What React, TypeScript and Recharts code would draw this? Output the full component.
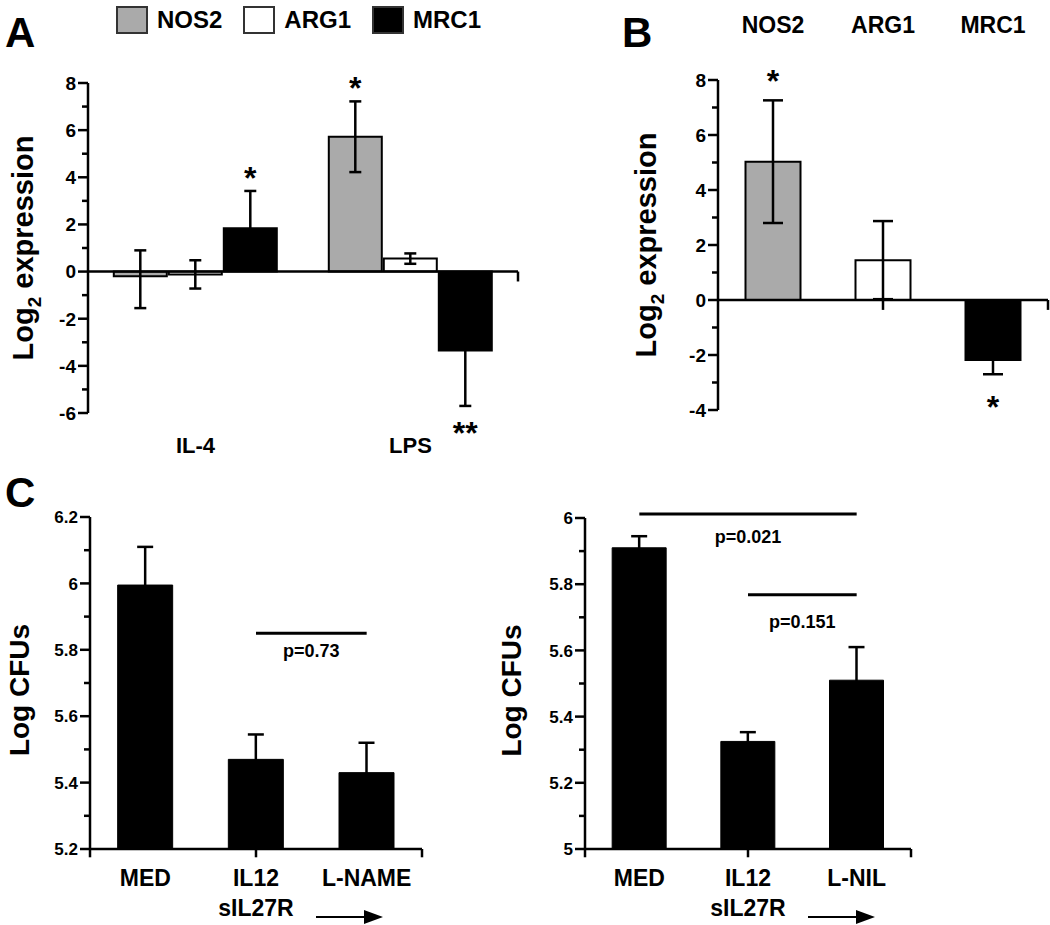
import React from "react"
import { BarChart, Bar, XAxis, YAxis, ErrorBar, ReferenceLine, Legend, LabelList, Cell } from "recharts"

const FONT = '"Liberation Sans", Arial, Helvetica, sans-serif'
const GREY = "#aaaaaa"

// Panel A: IL-4 / LPS, three genes
const seriesA = ["NOS2", "ARG1", "MRC1"]
const groupsA = ["IL-4", "LPS"]
const nos2A = [-0.2, 5.72]
const nos2ErrA = [[1.35, 1.1], [1.5, 1.5]]
const nos2StarA = ["", "*"]
const arg1A = [-0.12, 0.55]
const arg1ErrA = [0.6, 0.22]
const arg1StarA = ["", ""]
const mrc1A = [1.84, -3.35]
const mrc1ErrA = [1.58, 2.35]
const mrc1StarA = ["*", "**"]
const yTicksA = [-6, -5, -4, -3, -2, -1, 0, 1, 2, 3, 4, 5, 6, 7, 8]
const yLabelsA = [-6, -4, -2, 0, 2, 4, 6, 8]

// Panel B
const genesB = ["NOS2", "ARG1", "MRC1"]
const valuesB = [5.03, 1.45, -2.18]
const errB = [2.23, 1.42, 0.52]
const starsB = ["*", "", "*"]
const fillsB = [GREY, "#ffffff", "#000000"]
const yTicksB = [-4, -3, -2, -1, 0, 1, 2, 3, 4, 5, 6, 7, 8]
const yLabelsB = [-4, -2, 0, 2, 4, 6, 8]

// Panel C left
const groupsCL = ["MED", "IL12\nsIL27R", "L-NAME"]
const cfuCL = [5.995, 5.47, 5.43]
const errCL = [0.115, 0.075, 0.09]
const yTicksCL = [5.2, 5.3, 5.4, 5.5, 5.6, 5.7, 5.8, 5.9, 6, 6.1, 6.2]
const yLabelsCL = [5.2, 5.4, 5.6, 5.8, 6, 6.2]
const sigCL = [{ from: 1, to: 2, level: 5.85, text: "p=0.73", offset: 11 }]

// Panel C right
const groupsCR = ["MED", "IL12\nsIL27R", "L-NIL"]
const cfuCR = [5.91, 5.325, 5.51]
const errCR = [0.035, 0.028, 0.1]
const yTicksCR = [5, 5.1, 5.2, 5.3, 5.4, 5.5, 5.6, 5.7, 5.8, 5.9, 6]
const yLabelsCR = [5, 5.2, 5.4, 5.6, 5.8, 6]
const sigCR = [
  { from: 0, to: 2, level: 6.012, text: "p=0.021", offset: 16 },
  { from: 1, to: 2, level: 5.768, text: "p=0.151", offset: 20 },
]

const dataA = groupsA.map((g, i) => ({
  group: g,
  nos2: nos2A[i], nos2Err: nos2ErrA[i], nos2Star: nos2StarA[i],
  arg1: arg1A[i], arg1Err: arg1ErrA[i], arg1Star: arg1StarA[i],
  mrc1: mrc1A[i], mrc1Err: mrc1ErrA[i], mrc1Star: mrc1StarA[i],
}))
const dataB = genesB.map((g, i) => ({ gene: g, value: valuesB[i], err: errB[i], star: starsB[i] }))
const dataCL = groupsCL.map((g, i) => ({ group: g, cfu: cfuCL[i], err: errCL[i] }))
const dataCR = groupsCR.map((g, i) => ({ group: g, cfu: cfuCR[i], err: errCR[i] }))

const makeYTick = (majors: number[], fs: number) => (props: any) => {
  const { x, y, payload } = props
  const major = majors.includes(payload.value)
  const len = major ? 10 : 6
  return (
    <g>
      <line x1={x} y1={y} x2={x - len} y2={y} stroke="#000" strokeWidth={2.5} />
      {major && (
        <text x={x - len - 2} y={y} dy="0.36em" textAnchor="end" fontFamily={FONT} fontWeight="bold" fontSize={fs} fill="#000">
          {payload.value}
        </text>
      )}
    </g>
  )
}

const makeCatTick = (dy: number, fs: number, arrowIndex = -1) => (props: any) => {
  const { x, y, payload, index } = props
  const lines = String(payload.value).split("\n")
  const ay = y + 68
  return (
    <g>
      {lines.map((l, i) => (
        <text key={i} x={x} y={y + dy + i * 30} textAnchor="middle" fontFamily={FONT} fontWeight="bold" fontSize={fs} fill="#000">
          {l}
        </text>
      ))}
      {index === arrowIndex && (
        <g>
          <line x1={x + 60} y1={ay} x2={x + 112} y2={ay} stroke="#000" strokeWidth={2} />
          <polygon points={`${x + 127},${ay} ${x + 108},${ay - 7} ${x + 108},${ay + 7}`} fill="#000" />
        </g>
      )}
    </g>
  )
}

const makeStar = (rows: any[], valKey: string, errKey: string, gap: number, fs: number) => (props: any) => {
  const { index, value } = props
  if (!value) return null
  const src = props.x !== undefined ? props : props.viewBox
  const x = Number(src.x)
  const y = Number(src.y)
  const w = Number(src.width)
  const h = Number(src.height)
  const row = rows[index]
  const v = row[valKey]
  const e = row[errKey]
  const lo = Array.isArray(e) ? e[0] : e
  const hi = Array.isArray(e) ? e[1] : e
  const top = Math.min(y, y + h)
  const bottom = Math.max(y, y + h)
  const k = (bottom - top) / Math.abs(v)
  const cy = v >= 0 ? bottom - k * (v + hi) - gap : top + k * (Math.abs(v) + lo) + gap
  return (
    <text x={x + w / 2} y={cy + fs * 0.55} textAnchor="middle" fontFamily={FONT} fontWeight="bold" fontSize={fs} fill="#000">
      {value}
    </text>
  )
}

const AxisTitle = (props: any) => {
  const { viewBox, offsetX, shiftY = 0, fontSize, sub, text } = props
  const cx = viewBox.x + offsetX
  const cy = viewBox.y + viewBox.height / 2 + shiftY
  return (
    <text x={cx} y={cy} transform={`rotate(-90, ${cx}, ${cy})`} textAnchor="middle" fontFamily={FONT} fontWeight="bold" fontSize={fontSize} fill="#000">
      {sub ? (
        <>
          <tspan>Log</tspan>
          <tspan dy={8} fontSize={fontSize * 0.65}>2</tspan>
          <tspan dy={-8}>{" expression"}</tspan>
        </>
      ) : (
        text
      )}
    </text>
  )
}

const legendColors: Record<string, string> = { NOS2: GREY, ARG1: "#ffffff", MRC1: "#000000" }

const renderLegend = (props: any) => {
  const payload = [...(props.payload || [])].sort((a: any, b: any) => seriesA.indexOf(a.value) - seriesA.indexOf(b.value))
  return (
    <div style={{ display: "flex", alignItems: "center", height: 40, paddingLeft: 116 }}>
      {payload.map((e: any) => (
        <div key={e.value} style={{ display: "flex", alignItems: "center", marginRight: 21 }}>
          <span
            style={{
              display: "inline-block",
              width: 28,
              height: 24,
              background: legendColors[e.value] ?? e.color,
              border: "2px solid #333",
              marginRight: 9,
            }}
          />
          <span style={{ fontFamily: FONT, fontWeight: "bold", fontSize: 24, color: "#000" }}>{e.value}</span>
        </div>
      ))}
    </div>
  )
}

const edgeTicks = (n: number, base: number, depth: number, from = 1) =>
  Array.from({ length: n - from + 1 }, (_, i) => i + from).map((b) => (
    <ReferenceLine
      key={`edge-${b}`}
      xAxisId="edge"
      segment={[{ x: b, y: base }, { x: b, y: base - depth }]}
      stroke="#000"
      strokeWidth={2.5}
      ifOverflow="visible"
    />
  ))

const sigLines = (groups: string[], sigs: any[]) =>
  sigs.map((s) => (
    <ReferenceLine
      key={s.text}
      segment={[{ x: groups[s.from], y: s.level }, { x: groups[s.to], y: s.level }]}
      stroke="#000"
      strokeWidth={3}
      ifOverflow="visible"
      label={{ value: s.text, position: "bottom", offset: s.offset, fill: "#000", fontSize: 18, fontWeight: "bold", fontFamily: FONT }}
    />
  ))

function PanelA() {
  return (
    <BarChart width={530} height={470} data={dataA} margin={{ top: 43, right: 12, bottom: 0, left: 0 }} barCategoryGap="12%" barGap={2}>
      <Legend verticalAlign="top" align="left" height={40} wrapperStyle={{ top: 0, left: 0 }} content={renderLegend} />
      <XAxis dataKey="group" axisLine={false} tickLine={false} tickSize={0} tickMargin={0} height={57} interval={0} tick={makeCatTick(40, 22)} />
      <XAxis xAxisId="edge" type="number" domain={[0, 2]} allowDataOverflow hide />
      <YAxis
        type="number"
        domain={[-6, 8]}
        allowDataOverflow
        ticks={yTicksA}
        interval={0}
        width={88}
        tickSize={0}
        tickMargin={0}
        tickLine={false}
        axisLine={{ stroke: "#000", strokeWidth: 2.5 }}
        tick={makeYTick(yLabelsA, 19)}
        label={<AxisTitle offsetX={33} fontSize={29} sub />}
      />
      <Bar dataKey="nos2" name="NOS2" fill={GREY} stroke="#000" strokeWidth={2} isAnimationActive={false}>
        <ErrorBar dataKey="nos2Err" width={6} strokeWidth={2.5} stroke="#000" />
        <LabelList dataKey="nos2Star" content={makeStar(dataA, "nos2", "nos2Err", 20, 32)} />
      </Bar>
      <Bar dataKey="arg1" name="ARG1" fill="#ffffff" stroke="#000" strokeWidth={2} isAnimationActive={false}>
        <ErrorBar dataKey="arg1Err" width={6} strokeWidth={2.5} stroke="#000" />
        <LabelList dataKey="arg1Star" content={makeStar(dataA, "arg1", "arg1Err", 20, 32)} />
      </Bar>
      <Bar dataKey="mrc1" name="MRC1" fill="#000000" stroke="#000" strokeWidth={2} isAnimationActive={false}>
        <ErrorBar dataKey="mrc1Err" width={6} strokeWidth={2.5} stroke="#000" />
        <LabelList dataKey="mrc1Star" content={makeStar(dataA, "mrc1", "mrc1Err", 20, 32)} />
      </Bar>
      <ReferenceLine y={0} stroke="#000" strokeWidth={2.5} />
      {edgeTicks(2, 0, 0.42)}
    </BarChart>
  )
}

function PanelB() {
  return (
    <BarChart width={520} height={470} data={dataB} margin={{ top: 0, right: 2, bottom: 60, left: 0 }} barCategoryGap="25%">
      <XAxis dataKey="gene" orientation="top" axisLine={false} tickLine={false} tickSize={0} tickMargin={0} height={80} interval={0} tick={makeCatTick(-47, 23)} />
      <XAxis xAxisId="edge" type="number" domain={[0, 3]} allowDataOverflow hide />
      <YAxis
        type="number"
        domain={[-4, 8]}
        allowDataOverflow
        ticks={yTicksB}
        interval={0}
        width={188}
        tickSize={0}
        tickMargin={0}
        tickLine={false}
        axisLine={{ stroke: "#000", strokeWidth: 2.5 }}
        tick={makeYTick(yLabelsB, 19)}
        label={<AxisTitle offsetX={126} fontSize={29} sub />}
      />
      <Bar dataKey="value" stroke="#000" strokeWidth={2} isAnimationActive={false}>
        {dataB.map((d, i) => (
          <Cell key={d.gene} fill={fillsB[i]} />
        ))}
        <ErrorBar dataKey="err" width={10} strokeWidth={2.5} stroke="#000" />
        <LabelList dataKey="star" content={makeStar(dataB, "value", "err", 26, 32)} />
      </Bar>
      <ReferenceLine y={0} stroke="#000" strokeWidth={2.5} />
      {edgeTicks(3, 0, 0.36)}
    </BarChart>
  )
}

function PanelC({ data, groups, domain, ticks, labels, sigs, width, margin, yWidth, titleX }: any) {
  return (
    <BarChart width={width} height={455} data={data} margin={margin} barCategoryGap="25%">
      <XAxis
        dataKey="group"
        axisLine={{ stroke: "#000", strokeWidth: 2.5 }}
        tickLine={false}
        tickSize={0}
        tickMargin={0}
        height={76}
        interval={0}
        tick={makeCatTick(37, 23, 1)}
      />
      <XAxis xAxisId="edge" type="number" domain={[0, 3]} allowDataOverflow hide />
      <YAxis
        type="number"
        domain={domain}
        allowDataOverflow
        ticks={ticks}
        interval={0}
        width={yWidth}
        tickSize={0}
        tickMargin={0}
        tickLine={false}
        axisLine={{ stroke: "#000", strokeWidth: 2.5 }}
        tick={makeYTick(labels, 17)}
        label={<AxisTitle offsetX={titleX} shiftY={7} fontSize={28} text="Log CFUs" />}
      />
      <Bar dataKey="cfu" fill="#000" stroke="#000" strokeWidth={1} isAnimationActive={false}>
        <ErrorBar dataKey="err" width={8} strokeWidth={2.5} stroke="#000" />
      </Bar>
      {sigLines(groups, sigs)}
      {edgeTicks(3, domain[0], 0.025, 0)}
    </BarChart>
  )
}

export default function App() {
  return (
    <div style={{ position: "absolute", left: 0, top: 0, width: 1050, height: 925, background: "#fff", overflow: "hidden" }}>
      <div style={{ position: "absolute", left: 0, top: 0 }}>
        <PanelA />
      </div>
      <div style={{ position: "absolute", left: 530, top: 0 }}>
        <PanelB />
      </div>
      <div style={{ position: "absolute", left: 0, top: 470 }}>
        <PanelC
          data={dataCL}
          groups={groupsCL}
          domain={[5.2, 6.2]}
          ticks={yTicksCL}
          labels={yLabelsCL}
          sigs={sigCL}
          width={490}
          margin={{ top: 47, right: 68, bottom: 0, left: 0 }}
          yWidth={90}
          titleX={29}
        />
      </div>
      <div style={{ position: "absolute", left: 490, top: 470 }}>
        <PanelC
          data={dataCR}
          groups={groupsCR}
          domain={[5, 6]}
          ticks={yTicksCR}
          labels={yLabelsCR}
          sigs={sigCR}
          width={560}
          margin={{ top: 48, right: 139, bottom: 0, left: 0 }}
          yWidth={95}
          titleX={31}
        />
      </div>
      <svg width={1050} height={925} style={{ position: "absolute", left: 0, top: 0, pointerEvents: "none" }}>
        <text x={5} y={47} fontFamily={FONT} fontWeight="bold" fontSize={42} fill="#000">A</text>
        <text x={622} y={47} fontFamily={FONT} fontWeight="bold" fontSize={42} fill="#000">B</text>
        <text x={5} y={507} fontFamily={FONT} fontWeight="bold" fontSize={42} fill="#000">C</text>
      </svg>
    </div>
  )
}
